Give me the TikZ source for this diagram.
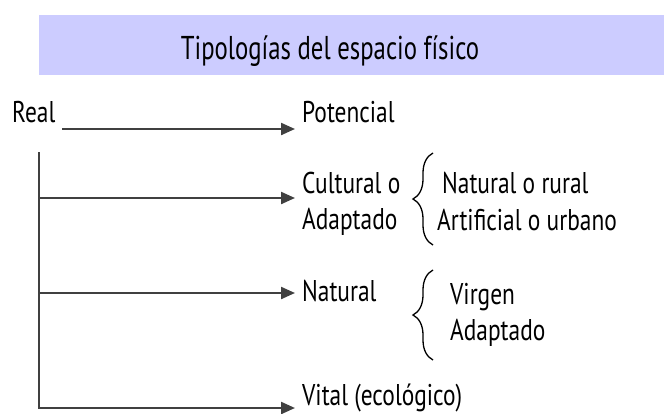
\documentclass[tikz,border=0pt]{standalone}
\usepackage{fontspec}
\setmainfont{PT Sans}[FakeStretch=0.78]
\newfontfamily\ttlfont{PT Sans}[FakeStretch=0.75]
\usetikzlibrary{arrows.meta,decorations.pathreplacing}
\definecolor{bandblue}{HTML}{CCCCFF}
\definecolor{linegray}{HTML}{404040}
\begin{document}
\begin{tikzpicture}[x=1pt,y=1pt,
  lbl/.style={anchor=base west,inner sep=0pt,font=\fontsize{30}{36}\selectfont},
  ttl/.style={anchor=base,inner sep=0pt,font=\ttlfont\fontsize{33}{38}\selectfont},
  conn/.style={draw=linegray,line width=2.2pt,-{Triangle[length=14pt,width=12pt]}},
  bracestyle/.style={draw=black,line width=1.3pt,decorate,decoration={brace,amplitude=20pt,aspect=0.5}}]
\useasboundingbox (0,0) rectangle (664,-413);
% header band
\node[fill=bandblue,inner sep=0pt,minimum width=625pt,minimum height=60pt,anchor=north west] (band) at (39,-15) {};
\node[ttl] (title) at (330,-59) {Tipologías del espacio físico};
% labels
\node[lbl] (real) at (12,-122) {Real};
\node[lbl] (pot) at (302,-122) {Potencial};
\node[lbl] (cult) at (302,-193) {Cultural o};
\node[lbl] (adap) at (302,-229) {Adaptado};
\node[lbl] (nat) at (302,-301) {Natural};
\node[lbl] (vital) at (302,-405) {Vital (ecológico)};
\node[lbl] (natrur) at (442,-193) {Natural o rural};
\node[lbl] (artif) at (437,-230) {Artificial o urbano};
\node[lbl] (virg) at (450,-304) {Virgen};
\node[lbl] (adap2) at (450,-340) {Adaptado};
% connector points
\coordinate (r0) at (62,-129);
\coordinate (p0) at (295,-129);
\coordinate (vtop) at (39,-152);
\coordinate (b1) at (39,-198);
\coordinate (e1) at (295,-198);
\coordinate (b2) at (39,-293);
\coordinate (e2) at (295,-293);
\coordinate (e3) at (295,-408);
\draw[conn] (r0) -- (p0);
\draw[conn] (vtop) |- (e3);
\draw[conn] (b1) -- (e1);
\draw[conn] (b2) -- (e2);
% braces
\coordinate (c1b) at (433,-245);
\coordinate (c1t) at (433,-153);
\coordinate (c2b) at (433,-360);
\coordinate (c2t) at (433,-270);
\draw[bracestyle] (c1b) -- (c1t);
\draw[bracestyle] (c2b) -- (c2t);
\end{tikzpicture}
\end{document}
